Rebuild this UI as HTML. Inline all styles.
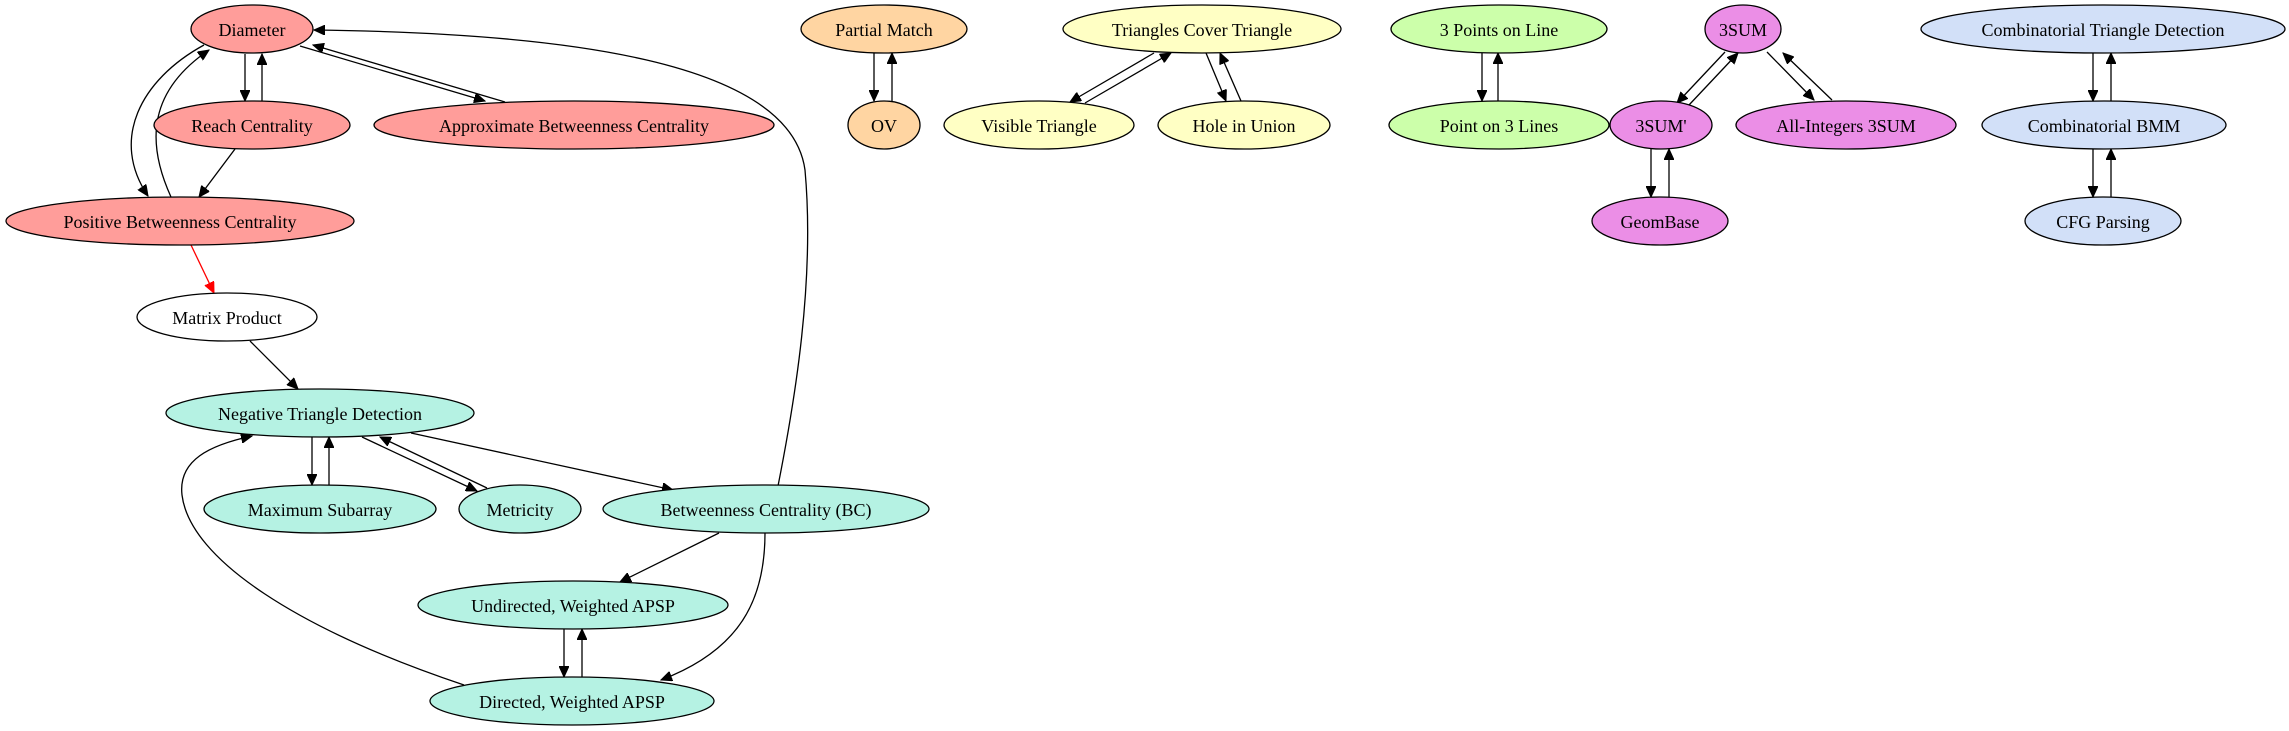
<!DOCTYPE html>
<html><head><meta charset="utf-8"><style>
html,body{margin:0;padding:0;background:#fff}
svg{display:block}
text{font-family:"Liberation Serif",serif;font-size:18px;text-anchor:middle;dominant-baseline:central;fill:#000}
ellipse{stroke:#000;stroke-width:1.3}
path{fill:none;stroke:#000;stroke-width:1.3}
</style></head><body>
<svg width="2289" height="731" viewBox="0 0 2289 731" xmlns="http://www.w3.org/2000/svg">
<defs>
<marker id="a" markerUnits="userSpaceOnUse" markerWidth="12" markerHeight="10" refX="11" refY="5" orient="auto"><path d="M0,0 L11,5 L0,10 Z" style="fill:#000;stroke:#000;stroke-width:1"/></marker>
<marker id="r" markerUnits="userSpaceOnUse" markerWidth="12" markerHeight="10" refX="11" refY="5" orient="auto"><path d="M0,0 L11,5 L0,10 Z" style="fill:red;stroke:red;stroke-width:1"/></marker>
</defs>
<g marker-end="url(#a)">
<path d="M245,54 L245,101"/>
<path d="M262,101 L262,54"/>
<path d="M300,46 L485,101"/>
<path d="M505,102 L313,45"/>
<path d="M204,45 C140,80 110,140 148,196"/>
<path d="M171,197 C145,140 150,90 209,50"/>
<path d="M235,149 L199,197"/>
<path d="M778,486 C795,400 815,280 805,170 C790,60 560,33 314,30"/>
<path d="M250,341 L298,389"/>
<path d="M312,437 L312,485"/>
<path d="M329,485 L329,437"/>
<path d="M362,437 L477,491"/>
<path d="M487,488 L380,437"/>
<path d="M411,433 L673,490"/>
<path d="M464,685 C300,630 190,560 182,495 C178,460 210,445 252,436"/>
<path d="M719,533 L620,582"/>
<path d="M765,533 C765,600 740,650 661,680"/>
<path d="M564,629 L564,677"/>
<path d="M582,677 L582,629"/>
<path d="M874,53 L874,101"/>
<path d="M892,101 L892,53"/>
<path d="M1154,53 L1070,102"/>
<path d="M1085,103 L1171,53"/>
<path d="M1206,53 L1226,101"/>
<path d="M1241,101 L1220,53"/>
<path d="M1482,53 L1482,101"/>
<path d="M1498,101 L1498,53"/>
<path d="M1725,52 L1677,103"/>
<path d="M1689,105 L1738,53"/>
<path d="M1767,52 L1814,100"/>
<path d="M1832,100 L1783,53"/>
<path d="M1651,149 L1651,197"/>
<path d="M1669,197 L1669,149"/>
<path d="M2093,53 L2093,101"/>
<path d="M2111,101 L2111,53"/>
<path d="M2093,149 L2093,197"/>
<path d="M2111,197 L2111,149"/>
</g>
<path d="M191,245 L214,293" style="stroke:red" marker-end="url(#r)"/>

<ellipse cx="252" cy="29" rx="61" ry="24" fill="#ff9d9a"/>
<ellipse cx="252" cy="125" rx="98" ry="24" fill="#ff9d9a"/>
<ellipse cx="574" cy="125" rx="200" ry="24" fill="#ff9d9a"/>
<ellipse cx="180" cy="221" rx="174" ry="24" fill="#ff9d9a"/>
<ellipse cx="227" cy="317" rx="90" ry="24" fill="#fff"/>
<ellipse cx="320" cy="413" rx="154" ry="24" fill="#b5f2e3"/>
<ellipse cx="320" cy="509" rx="116" ry="24" fill="#b5f2e3"/>
<ellipse cx="520" cy="509" rx="61" ry="24" fill="#b5f2e3"/>
<ellipse cx="766" cy="509" rx="163" ry="24" fill="#b5f2e3"/>
<ellipse cx="573" cy="605" rx="155" ry="24" fill="#b5f2e3"/>
<ellipse cx="572" cy="701" rx="142" ry="24" fill="#b5f2e3"/>
<ellipse cx="884" cy="29" rx="83" ry="24" fill="#ffd5a2"/>
<ellipse cx="884" cy="125" rx="36" ry="24" fill="#ffd5a2"/>
<ellipse cx="1202" cy="29" rx="139" ry="24" fill="#ffffc4"/>
<ellipse cx="1039" cy="125" rx="95" ry="24" fill="#ffffc4"/>
<ellipse cx="1244" cy="125" rx="86" ry="24" fill="#ffffc4"/>
<ellipse cx="1499" cy="29" rx="108" ry="24" fill="#ccffaa"/>
<ellipse cx="1499" cy="125" rx="110" ry="24" fill="#ccffaa"/>
<ellipse cx="1743" cy="29" rx="38" ry="24" fill="#eb8ee6"/>
<ellipse cx="1661" cy="125" rx="51" ry="24" fill="#eb8ee6"/>
<ellipse cx="1846" cy="125" rx="110" ry="24" fill="#eb8ee6"/>
<ellipse cx="1660" cy="221" rx="68" ry="24" fill="#eb8ee6"/>
<ellipse cx="2103" cy="29" rx="182" ry="24" fill="#d2e0f8"/>
<ellipse cx="2104" cy="125" rx="122" ry="24" fill="#d2e0f8"/>
<ellipse cx="2103" cy="221" rx="78" ry="24" fill="#d2e0f8"/>

<text x="252" y="30">Diameter</text>
<text x="252" y="126">Reach Centrality</text>
<text x="574" y="126">Approximate Betweenness Centrality</text>
<text x="180" y="222">Positive Betweenness Centrality</text>
<text x="227" y="318">Matrix Product</text>
<text x="320" y="414">Negative Triangle Detection</text>
<text x="320" y="510">Maximum Subarray</text>
<text x="520" y="510">Metricity</text>
<text x="766" y="510">Betweenness Centrality (BC)</text>
<text x="573" y="606">Undirected, Weighted APSP</text>
<text x="572" y="702">Directed, Weighted APSP</text>
<text x="884" y="30">Partial Match</text>
<text x="884" y="126">OV</text>
<text x="1202" y="30">Triangles Cover Triangle</text>
<text x="1039" y="126">Visible Triangle</text>
<text x="1244" y="126">Hole in Union</text>
<text x="1499" y="30">3 Points on Line</text>
<text x="1499" y="126">Point on 3 Lines</text>
<text x="1743" y="30">3SUM</text>
<text x="1661" y="126">3SUM'</text>
<text x="1846" y="126">All-Integers 3SUM</text>
<text x="1660" y="222">GeomBase</text>
<text x="2103" y="30">Combinatorial Triangle Detection</text>
<text x="2104" y="126">Combinatorial BMM</text>
<text x="2103" y="222">CFG Parsing</text>
</svg>
</body></html>
